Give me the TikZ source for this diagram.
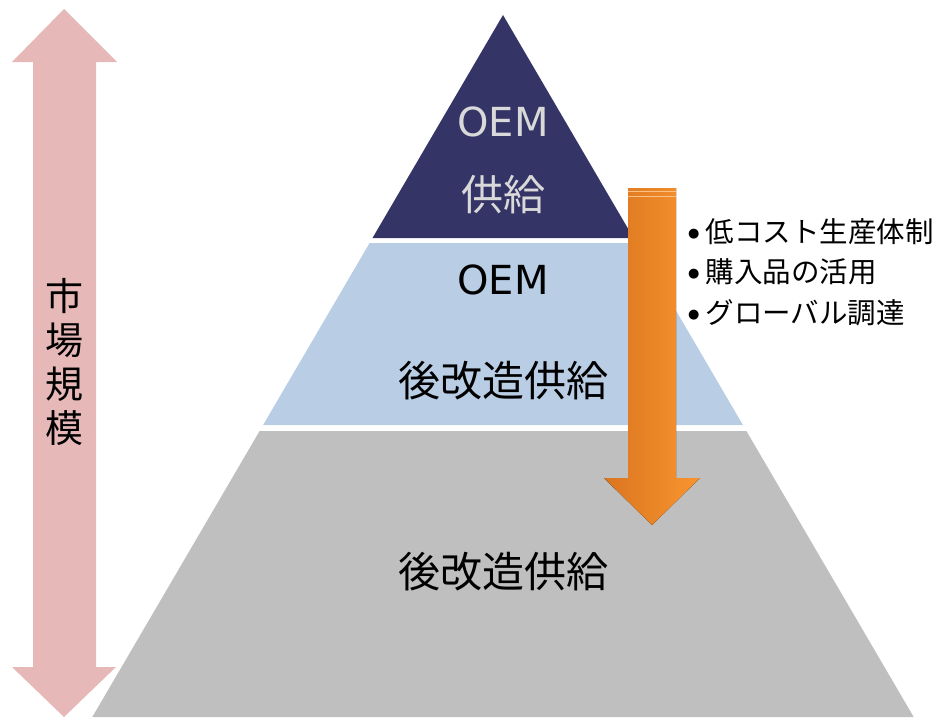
\documentclass[tikz,border=0pt]{standalone}
\usepackage{fontspec}
\setmainfont{Noto Sans CJK JP}
\newfontfamily\latinfont{DejaVu Sans}
\usepackage{tikz}

\definecolor{navy}{HTML}{343466}
\definecolor{paleblue}{HTML}{B9CDE5}
\definecolor{midgrey}{HTML}{BFBFBF}
\definecolor{rose}{HTML}{E6B9B8}
\definecolor{darkorange}{HTML}{DA7520}
\definecolor{lightorange}{HTML}{F9952F}
\definecolor{toptext}{HTML}{D9D9D9}

\newcommand{\dotmark}{\raisebox{5.5pt}{\latinfont\fontsize{13}{13}\selectfont ●}\hspace{6pt}}

\begin{document}
\begin{tikzpicture}[x=1pt,y=-1pt]
        \tikzstyle{every node} = [rectangle, inner sep=0pt]
        \tikzstyle{big} = [font=\fontsize{42}{50}\selectfont]
        \tikzstyle{latin} = [font=\latinfont\fontsize{40}{48}\selectfont]
        \tikzstyle{bullet} = [anchor=west, font=\fontsize{28.5}{34}\selectfont]
        \useasboundingbox (0,0) rectangle (933,717);

        % pyramid layers
        \fill[navy] (503,15) -- (633.5,238) -- (372.5,238) -- cycle;
        \fill[paleblue] (369.6,243) -- (636.4,243) -- (742.9,425) -- (263.1,425) -- cycle;
        \fill[midgrey] (259.6,431) -- (746.4,431) -- (913.7,717) -- (92.3,717) -- cycle;

        % market size arrow
        \fill[rose] (64,9) -- (117,62) -- (96,62) -- (96,667) -- (116,667) -- (64,717)
            -- (12,667) -- (33,667) -- (33,62) -- (12,62) -- cycle;
        \node[font=\fontsize{38}{44}\selectfont, align=center] (size) at (64,362) {市\\場\\規\\模};

        % cost down arrow
        \fill[left color=darkorange, right color=lightorange] (628,188) -- (676,188) -- (676,478)
            -- (700,478) -- (652,525) -- (604,478) -- (628,478) -- cycle;
        \draw[line width=1pt, lightorange!60!white] (628,191) -- (676,191);
        \draw[line width=1pt, lightorange!60!white] (628,196) -- (676,196);

        \node[latin, text=toptext] (0) at (503,122) {OEM};
        \node[big, text=toptext] (1) at (503,195) {供給};
        \node[latin] (2) at (503,280) {OEM};
        \node[big] (3) at (503,381) {後改造供給};
        \node[big] (4) at (503,572) {後改造供給};

        \foreach \y/\txt in {232/低コスト生産体制, 272/購入品の活用, 313/グローバル調達}
            \node[bullet] (b\y) at (688,\y) {\dotmark\txt};
      \end{tikzpicture}
\end{document}
